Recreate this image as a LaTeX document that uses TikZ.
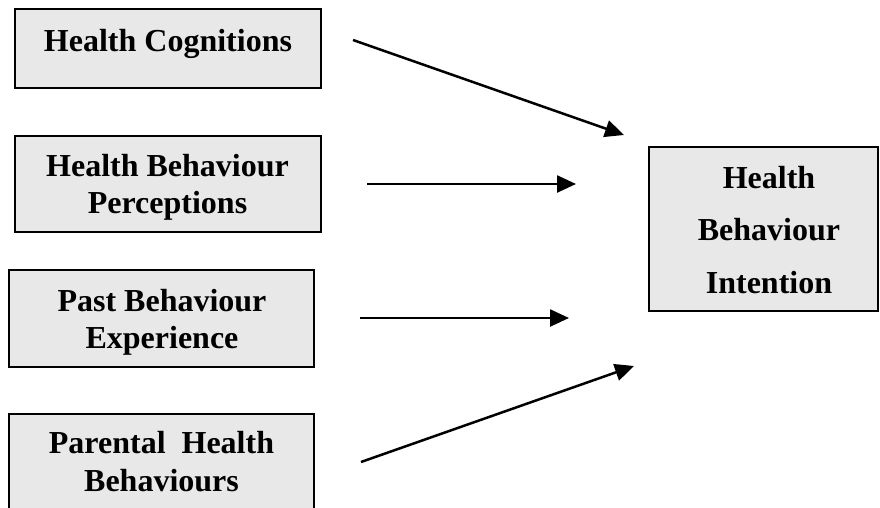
\documentclass[tikz,border=0pt]{standalone}
\usepackage{fontspec}
\setmainfont{Liberation Serif}
\usetikzlibrary{arrows.meta}
\definecolor{boxgray}{HTML}{E8E8E8}
\begin{document}
\begin{tikzpicture}[x=1pt,y=-1pt,
  boxshape/.style={draw=black, line width=1.8pt, fill=boxgray, inner sep=0pt},
  lbl/.style={anchor=base, inner sep=0pt, font=\fontsize{32}{37}\selectfont\bfseries},
  arr/.style={line width=2.5pt, -{Triangle[length=19pt,width=17pt]}}]
\useasboundingbox (0,0) rectangle (880,508);
\clip (0,0) rectangle (880,508);
% boxes
\node[boxshape, minimum width=306pt, minimum height=79pt] (b1) at (168,48.5) {};
\node[boxshape, minimum width=306pt, minimum height=96pt] (b2) at (168,184) {};
\node[boxshape, minimum width=305pt, minimum height=97pt] (b3) at (161.5,318.5) {};
\node[boxshape, minimum width=305pt, minimum height=110pt] (b4) at (161.5,469) {};
\node[boxshape, minimum width=229pt, minimum height=164pt] (b5) at (763.5,229) {};
% texts
\node[lbl] (t1) at (168,52) {Health Cognitions};
\node[lbl] (t2a) at (167.5,176) {Health Behaviour};
\node[lbl] (t2b) at (167.5,213) {Perceptions};
\node[lbl] (t3a) at (162,311) {Past Behaviour};
\node[lbl] (t3b) at (162,348) {Experience};
\node[lbl] (t4a) at (161.5,453) {Parental\ \ Health};
\node[lbl] (t4b) at (161.5,491) {Behaviours};
\node[lbl] (t5a) at (769,188) {Health};
\node[lbl] (t5b) at (769,240) {Behaviour};
\node[lbl] (t5c) at (769,293) {Intention};
% arrow ends
\coordinate (s1) at (353,40);  \coordinate (e1) at (624,135);
\coordinate (s2) at (367,184); \coordinate (e2) at (576,184);
\coordinate (s3) at (360,318); \coordinate (e3) at (569,318);
\coordinate (s4) at (361,462); \coordinate (e4) at (634,366);
\draw[arr] (s1) -- (e1);
\draw[arr] (s2) -- (e2);
\draw[arr] (s3) -- (e3);
\draw[arr] (s4) -- (e4);
\end{tikzpicture}
\end{document}
